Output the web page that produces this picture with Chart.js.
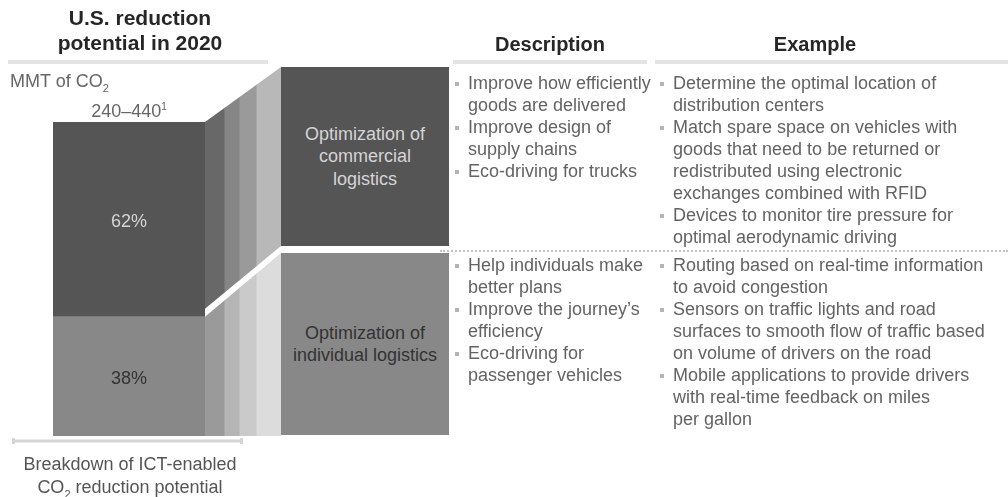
<!DOCTYPE html>
<html>
<head>
<meta charset="utf-8">
<script src="https://cdn.jsdelivr.net/npm/chart.js@4.4.0/dist/chart.umd.min.js"></script>
<style>
  body { margin:0; background:#fff; font-family:"Liberation Sans", Arial, sans-serif; }
  #wrap { position:relative; width:1008px; height:497px; overflow:hidden; }
  #chart { position:absolute; left:0; top:0; }
  .abs { position:absolute; white-space:nowrap; }
  .hdr { font-weight:bold; color:#262626; font-size:20px; text-align:center; }
  .bar { position:absolute; height:4px; background:#e4e4e4; }
  .box { position:absolute; display:flex; align-items:center; justify-content:center; text-align:center; font-size:18px; line-height:22.5px; }
  .col { position:absolute; font-size:18px; line-height:22px; color:#636363; }
  .col .ln { position:relative; white-space:nowrap; }
  .col .bl { position:absolute; left:-13px; top:10px; width:4px; height:4px; background:#b4b4b4; }
</style>
</head>
<body>
<div id="wrap">
  <canvas id="chart" width="1008" height="497"></canvas>

  <div class="abs hdr" style="left:20px;width:240px;top:5px;font-size:21px;line-height:25px;white-space:normal">U.S. reduction<br>potential in 2020</div>
  <div class="bar" style="left:8px;width:260px;top:60px"></div>
  <div class="abs" style="left:10px;top:70px;font-size:18px;line-height:22px;color:#666">MMT of CO<sub style="font-size:11px">2</sub></div>
  <div class="abs" style="left:79px;width:100px;top:96px;font-size:18px;line-height:22px;color:#666;text-align:center">240–440<sup style="font-size:10px">1</sup></div>

  <div class="abs hdr" style="left:453px;width:194px;top:33px">Description</div>
  <div class="bar" style="left:453px;width:194px;top:60px"></div>
  <div class="abs hdr" style="left:700px;width:230px;top:33px">Example</div>
  <div class="bar" style="left:655px;width:353px;top:60px"></div>

  <div class="abs" style="left:440px;width:568px;top:250px;border-top:2px dotted #c4c4c4"></div>

  <svg class="abs" style="left:0;top:436px" width="260" height="12">
    <path d="M13.5 2 V8 M13.5 5 H241.5 M241.5 2 V8" stroke="#d6d6d6" stroke-width="3" fill="none"/>
  </svg>
  <div class="abs" style="left:10px;width:240px;top:453px;font-size:18px;line-height:23px;color:#555;text-align:center;white-space:normal">Breakdown of ICT-enabled<br>CO<sub style="font-size:11px;line-height:0">2</sub> reduction potential</div>

  <div id="boxes"></div>
  <div id="cols"></div>
</div>
<script>
// categories, top to bottom
const categories = ['Optimization of commercial logistics', 'Optimization of individual logistics'];
const shares = [62, 38];
const boxLines = [['Optimization of', 'commercial', 'logistics'], ['Optimization of', 'individual logistics']];
const boxColors = ['#555555', '#888888'];
const boxText = ['#d4d4d4', '#333333'];
const stripColors = [['#686868', '#858585', '#9a9a9a', '#b8b8b8'], ['#9a9a9a', '#b5b5b5', '#cacaca', '#dcdcdc']];

const descriptions = [
  [['Improve how efficiently', 'goods are delivered'], ['Improve design of', 'supply chains'], ['Eco-driving for trucks']],
  [['Help individuals make', 'better plans'], ['Improve the journey\u2019s', 'efficiency'], ['Eco-driving for', 'passenger vehicles']]
];
const examples = [
  [['Determine the optimal location of', 'distribution centers'],
   ['Match spare space on vehicles with', 'goods that need to be returned or', 'redistributed using electronic', 'exchanges combined with RFID'],
   ['Devices to monitor tire pressure for', 'optimal aerodynamic driving']],
  [['Routing based on real-time information', 'to avoid congestion'],
   ['Sensors on traffic lights and road', 'surfaces to smooth flow of traffic based', 'on volume of drivers on the road'],
   ['Mobile applications to provide drivers', 'with real-time feedback on miles', 'per gallon']]
];

// layout of the right-hand boxes / text rows
const BOX = { left: 281, right: 449, rows: [[67, 246], [253, 435]] };
const TEXT_TOP = [72, 254];
const STRIP_STEPS = [0, 20, 35, 52, 76];

function bulletHTML(items, left, top) {
  let h = `<div class="col" style="left:${left}px;top:${top}px">`;
  for (const it of items) {
    it.forEach((line, i) => {
      h += `<div class="ln">${i === 0 ? '<span class="bl"></span>' : ''}${line}</div>`;
    });
  }
  return h + '</div>';
}

let boxes = '';
let cols = '';
categories.forEach((c, i) => {
  const [t, b] = BOX.rows[i];
  boxes += `<div class="box" title="${c}" style="left:${BOX.left}px;width:${BOX.right - BOX.left}px;top:${t}px;height:${b - t}px;background:${boxColors[i]};color:${boxText[i]}">${boxLines[i].join('<br>')}</div>`;
  cols += bulletHTML(descriptions[i], 468, TEXT_TOP[i]);
  cols += bulletHTML(examples[i], 673, TEXT_TOP[i]);
});
document.getElementById('boxes').innerHTML = boxes;
document.getElementById('cols').innerHTML = cols;

const funnel = {
  id: 'funnel',
  afterDatasetsDraw(chart) {
    const ctx = chart.ctx;
    // dataset 0 = bottom (individual), dataset 1 = top (commercial)
    const segs = [chart.getDatasetMeta(1).data[0], chart.getDatasetMeta(0).data[0]];
    segs.forEach((el, i) => {
      const R = el.x + el.width / 2;
      const B = R + STRIP_STEPS[STRIP_STEPS.length - 1];
      const [bt, bb] = BOX.rows[i];
      const top = Math.min(el.y, el.base), bot = Math.max(el.y, el.base);
      const botLeft = i === 0 ? bot - 8 : bot;
      const botRight = i === 0 ? bb : bot;
      ctx.save();
      ctx.beginPath();
      ctx.moveTo(R, top);
      ctx.lineTo(B, bt);
      ctx.lineTo(B, botRight);
      ctx.lineTo(R, botLeft);
      ctx.closePath();
      ctx.clip();
      for (let k = 0; k < 4; k++) {
        ctx.fillStyle = stripColors[i][k];
        ctx.fillRect(R + STRIP_STEPS[k] - 0.5, 0, STRIP_STEPS[k + 1] - STRIP_STEPS[k] + 1, chart.height);
      }
      ctx.restore();
      // share label
      ctx.save();
      ctx.font = '18px "Liberation Sans", Arial, sans-serif';
      ctx.fillStyle = boxText[i];
      ctx.textAlign = 'center';
      ctx.textBaseline = 'middle';
      ctx.fillText(shares[i] + '%', el.x, (top + bot) / 2 + 3);
      ctx.restore();
    });
  }
};

new Chart(document.getElementById('chart'), {
  type: 'bar',
  data: {
    labels: ['U.S. 2020'],
    datasets: [
      { label: categories[1], data: [shares[1]], backgroundColor: boxColors[1] },
      { label: categories[0], data: [shares[0]], backgroundColor: boxColors[0] }
    ]
  },
  options: {
    responsive: false,
    animation: false,
    devicePixelRatio: 1,
    layout: { padding: { left: 53, right: 803, top: 122, bottom: 61 } },
    datasets: { bar: { barPercentage: 1, categoryPercentage: 1 } },
    scales: {
      x: { display: false, stacked: true },
      y: { display: false, stacked: true, min: 0, max: 100 }
    },
    plugins: { legend: { display: false }, tooltip: { enabled: false } }
  },
  plugins: [funnel]
});
</script>
</body>
</html>
